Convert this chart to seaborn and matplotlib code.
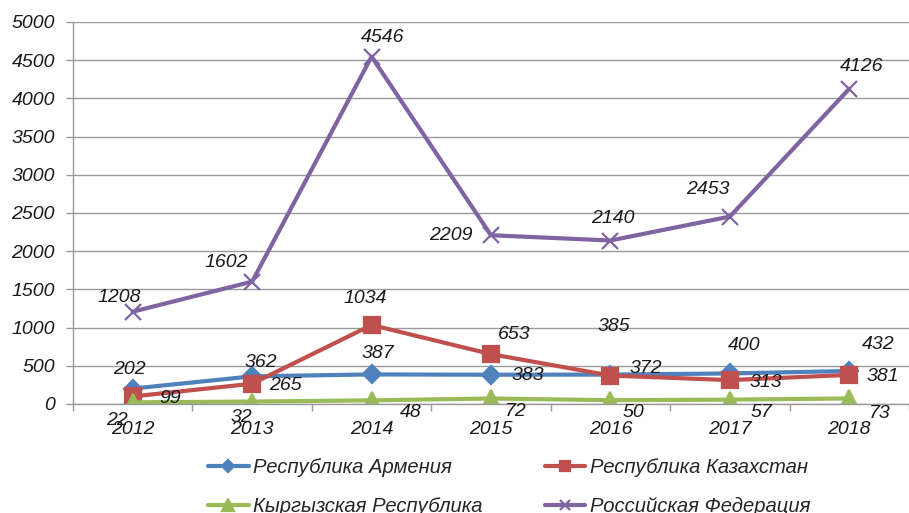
"""
Line chart: four countries, 2012-2018, with data labels.
"""

import matplotlib
matplotlib.use("Agg")
import matplotlib.pyplot as plt
import seaborn as sns
import pandas as pd

# Data
years = ["2012", "2013", "2014", "2015", "2016", "2017", "2018"]
armenia = [202, 362, 387, 383, 385, 400, 432]
kazakhstan = [99, 265, 1034, 653, 372, 313, 381]
kyrgyzstan = [22, 32, 48, 72, 50, 57, 73]
russia = [1208, 1602, 4546, 2209, 2140, 2453, 4126]

series_names = [
    "Республика Армения",
    "Республика Казахстан",
    "Кыргызская Республика",
    "Российская Федерация",
]

sns.set_theme(style="white")
plt.rcParams["font.family"] = ["Liberation Sans", "DejaVu Sans"]

FS = 14

fig = plt.figure(figsize=(9.09, 5.13), dpi=100)
ax = fig.add_axes([73 / 909, 1 - 404 / 513, 1 - 73 / 909, (404 - 22) / 513])

styles = [
    dict(color="#4F81BD", marker="D", ms=9),
    dict(color="#C0504D", marker="s", ms=11),
    dict(color="#9BBB59", marker="^", ms=12),
    dict(color="#8064A2", marker="x", ms=11),
]

# label offsets in pixels (dx, dy with dy positive = down)
offsets = [
    [(-3, -19), (9, -14), (6, -21), (37, 1), (3, -48), (14, -28), (29, -26)],
    [(37, 2), (33, 2), (-6, -27), (23, -20), (35, -7), (36, 2), (34, 2)],
    [(-16, 18), (-11, 16), (39, 12), (25, 13), (23, 12), (32, 13), (31, 15)],
    [(-13, -14), (-26, -19), (11, -19), (-40, 0), (2, -22), (-22, -27), (12, -22)],
]

all_values = [armenia, kazakhstan, kyrgyzstan, russia]
x_idx = list(range(len(years)))

for name, vals, st, offs in zip(series_names, all_values, styles, offsets):
    df = pd.DataFrame({"x": x_idx, "value": vals})
    sns.lineplot(
        data=df, x="x", y="value", ax=ax, label=name,
        color=st["color"], marker=st["marker"], markersize=st["ms"],
        markeredgecolor=st["color"], markeredgewidth=1.6, linewidth=3,
    )
    for xi, v, (dx, dy) in zip(x_idx, vals, offs):
        ax.annotate(
            str(v), (xi, v), xytext=(dx, -dy), textcoords="offset pixels",
            ha="center", va="center", fontsize=FS, fontstyle="italic",
            color="#1a1a1a",
        )

# axes formatting
ax.set_ylim(0, 5000)
ax.set_yticks(range(0, 5001, 500))
ax.set_xlim(-0.5, 6.5 - 7 / 120.5)
ax.set_xticks(x_idx)
ax.set_xticklabels(years)
ax.set_xticks([i - 0.5 for i in range(len(years) + 1)], minor=True)
ax.tick_params(axis="x", which="major", length=0, pad=12, labelsize=FS)
ax.tick_params(axis="x", which="minor", length=5, color="#999999", width=1,
               direction="out", bottom=True)
ax.tick_params(axis="y", length=5, color="#999999", width=1, pad=8,
               labelsize=FS, left=True, direction="out")
for lbl in ax.get_xticklabels() + ax.get_yticklabels():
    lbl.set_fontstyle("italic")
    lbl.set_color("#1a1a1a")

ax.yaxis.grid(True, color="#9a9a9a", linewidth=1)
ax.set_axisbelow(True)
ax.set_xlabel("")
ax.set_ylabel("")
for side in ["top", "right"]:
    ax.spines[side].set_visible(False)
for side in ["left", "bottom"]:
    ax.spines[side].set_color("#999999")
    ax.spines[side].set_linewidth(1)

# legend: rows Армения/Казахстан, then Кыргызская/Российская
handles, labels = ax.get_legend_handles_labels()
order = [0, 2, 1, 3]
leg = ax.legend(
    [handles[i] for i in order], [labels[i] for i in order],
    loc="center", bbox_to_anchor=(509 / 909, 1 - 487 / 513),
    bbox_transform=fig.transFigure, ncol=2, frameon=False,
    prop={"size": 14.6, "style": "italic"}, handlelength=2.0,
    columnspacing=3.1, labelspacing=1.0, handletextpad=0.2, markerscale=0.7,
)

fig.savefig("out.png", dpi=100, facecolor="white")
